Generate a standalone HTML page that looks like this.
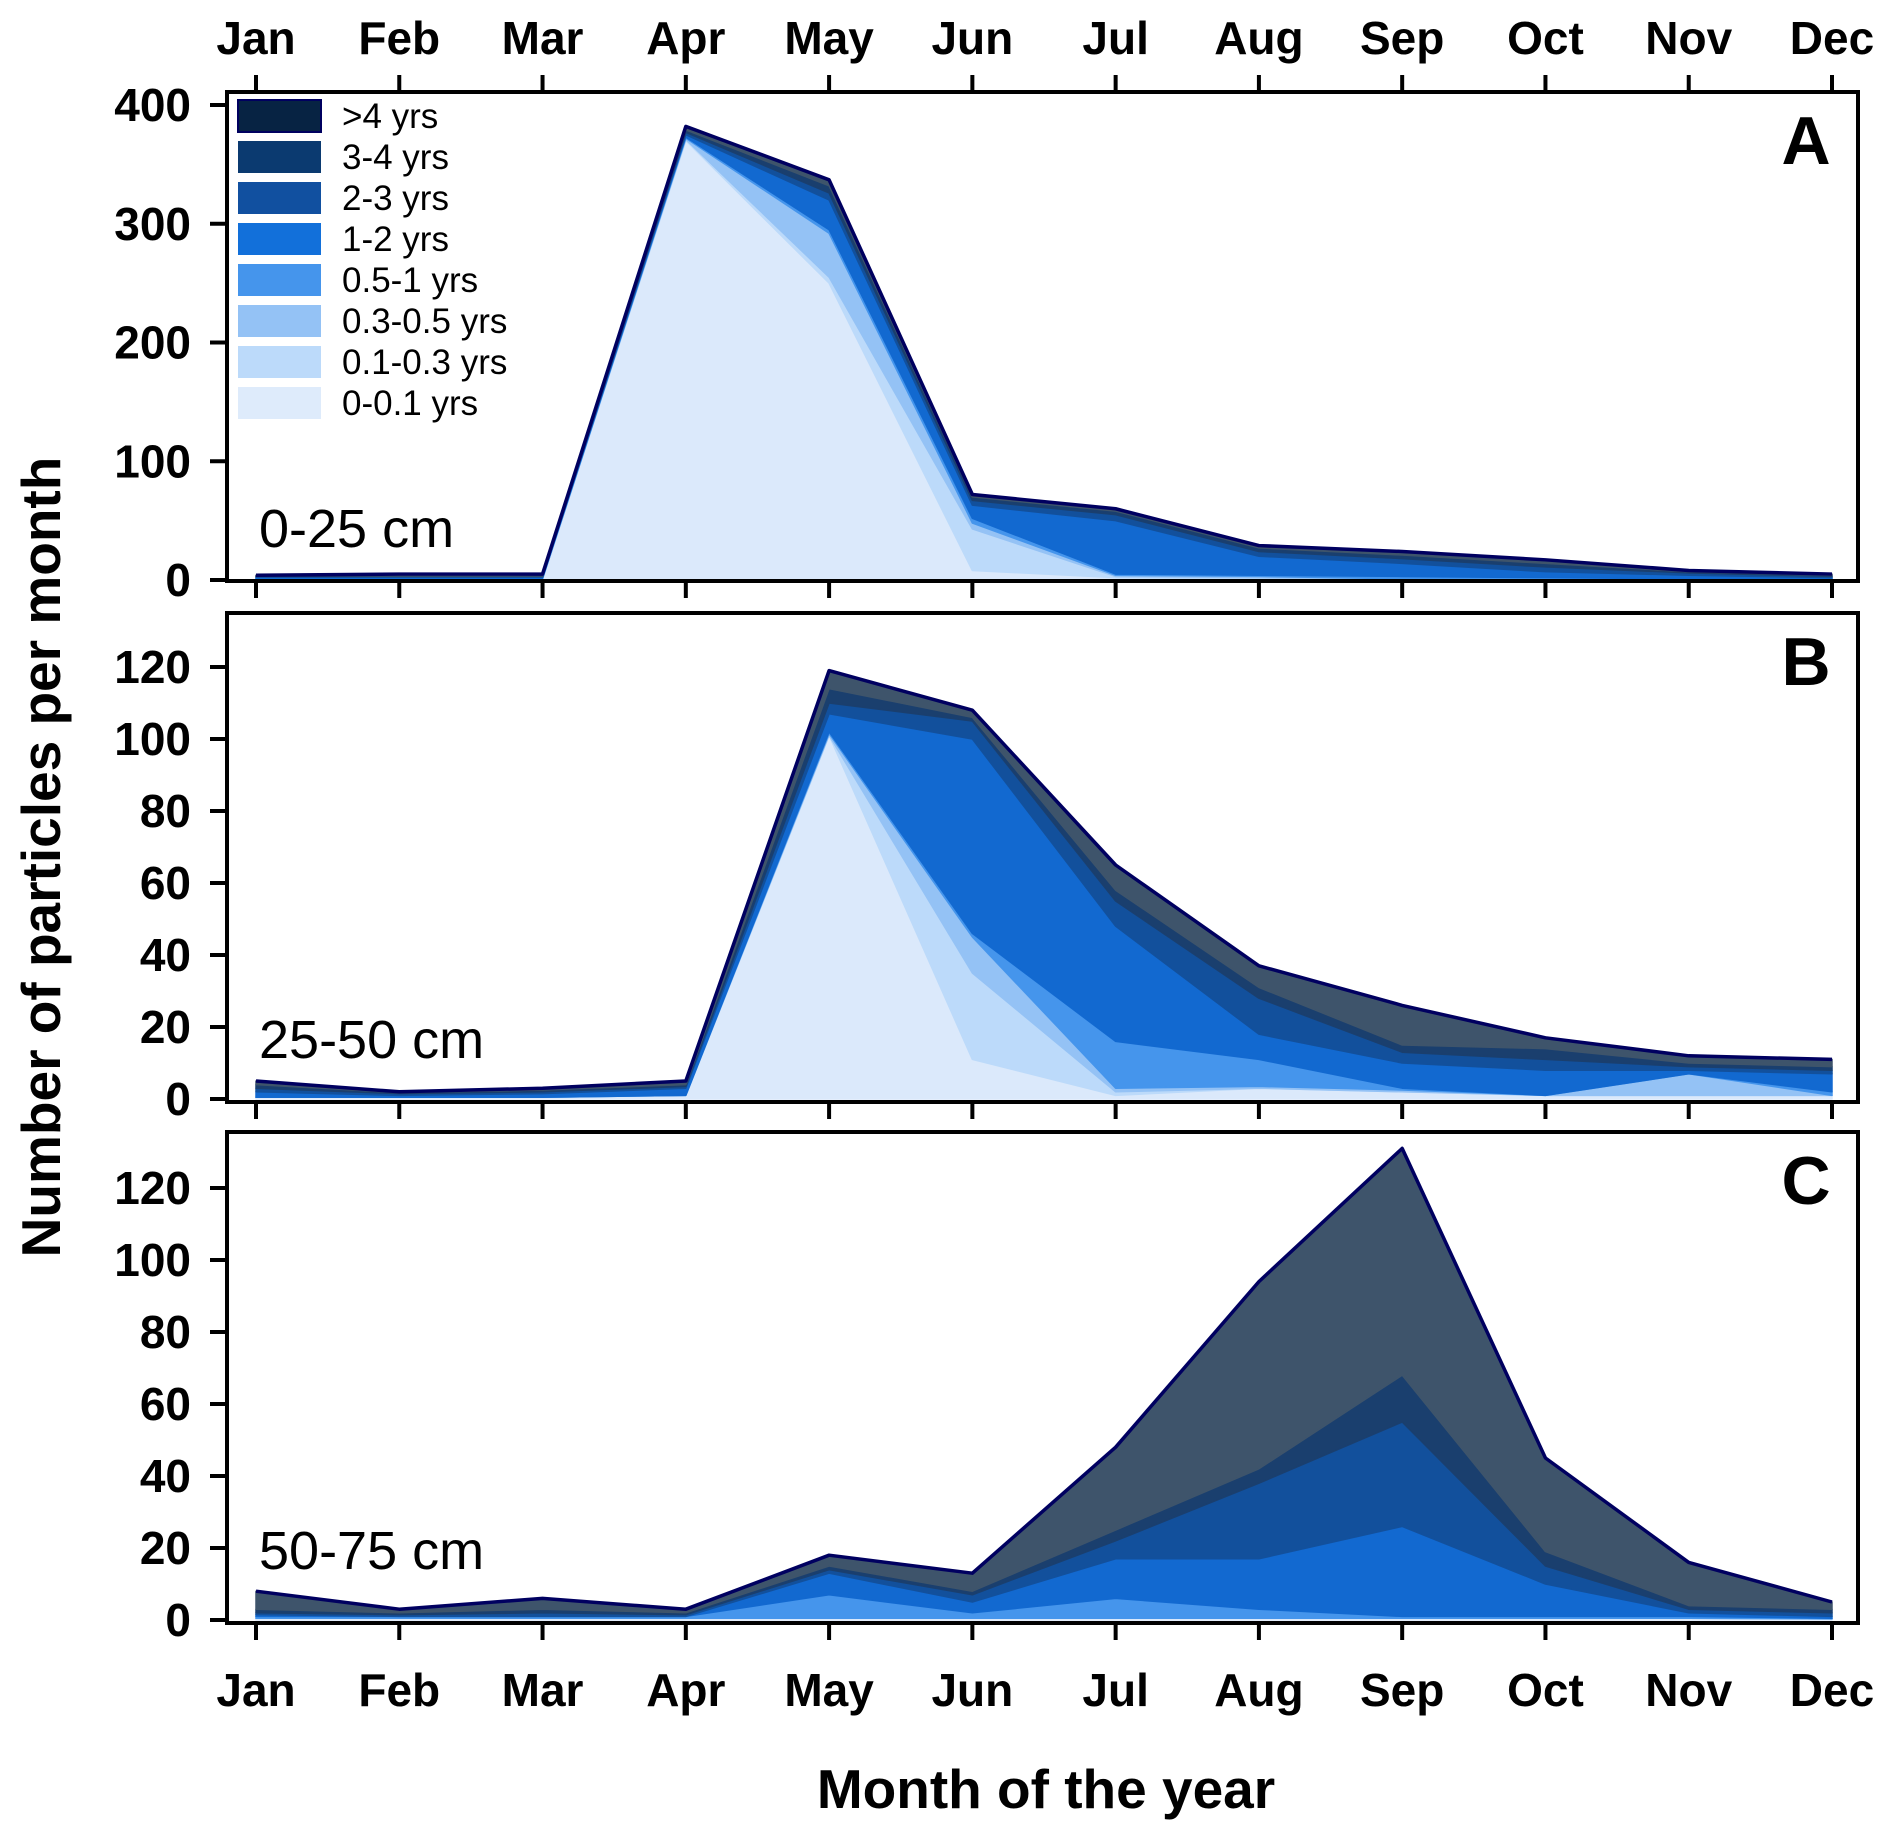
<!DOCTYPE html>
<html><head><meta charset="utf-8"><style>
body{margin:0;background:#fff}
svg{display:block;font-family:"Liberation Sans",Arial,sans-serif}
</style></head><body>
<svg id="chart" width="1892" height="1838" viewBox="0 0 1892 1838"></svg>
<script>
const months=["Jan","Feb","Mar","Apr","May","Jun","Jul","Aug","Sep","Oct","Nov","Dec"];
const seriesNames=["0-0.1 yrs","0.1-0.3 yrs","0.3-0.5 yrs","0.5-1 yrs","1-2 yrs","2-3 yrs","3-4 yrs",">4 yrs"];
// Panel A (0-25 cm)
const a0=[1,1,1,370,250,8,2,1,0,0,0,0];
const a1=[0,0,0,1,5,35,1,1,1,0,0,0];
const a2=[0,0,0,1,37,5,1,1,0,0,0,0];
const a3=[0.5,0.5,0.5,1,3,4,1,1,2,2,1,1];
const a4=[1,1,1,2,25,11,45,16,11,5,3,1];
const a5=[0.5,0.5,0.5,2,6,4,5,4,4,4,2,1];
const a6=[0.5,0.5,0.5,2,6,3,3,3,3,3,1,1];
const a7=[0.5,1.5,1.5,3,5,2,2,2,3,3,1,1];
// Panel B (25-50 cm)
const b0=[0.5,0.5,0.5,1,101,11,1,3,2,1,1,1];
const b1=[0,0,0,0,0,24,1,0,0,0,0,0];
const b2=[0,0,0,0,0.5,10,1,0.5,0.5,0,6,0];
const b3=[0,0,0,0,0.5,1,13,7.5,0.5,0,0,1];
const b4=[1.5,0.5,1,2,5,54,32,7,7,7,1,5];
const b5=[1,0.5,0.5,0.5,3,5,7,10,3,3,1,1];
const b6=[1,0.3,0.5,0.5,4,1,3,3,2,3,1,1];
const b7=[1,0.2,0.5,1,5,2,7,6,11,3,2,2];
// Panel C (50-75 cm)
const c0=[0.5,0.5,0.5,0.5,0.5,0.5,0.5,0.5,0.5,0.5,0.5,0.3];
const c1=[0,0,0,0,0,0,0,0,0,0,0,0];
const c2=[0,0,0,0,0,0,0,0,0,0,0,0];
const c3=[0.5,0.5,0.5,0.5,6.5,1.5,5.5,2.5,0.5,0.5,0.5,0.2];
const c4=[0.5,0,0,0,6,3,11,14,25,9,1,0.5];
const c5=[0.5,0.5,1,0.5,1,2,5,21,29,5,1,1];
const c6=[1,0.5,1,0.5,1,1,3,4,13,4,1,1];
const c7=[5,1,3,1,3,5,23,52,63,26,12,2];
const ticksA=[0,100,200,300,400];
const ticksB=[0,20,40,60,80,100,120];
const ticksC=[0,20,40,60,80,100,120];

const fills=["#dbe9fb","#bcdafa","#94c2f5","#4595ec","#1269d0","#12509c","#1a3f6e","#3e546b"];
const legendFills=["#deebfb","#bcdafa","#94c2f5","#4595ec","#1270da","#1150a0","#0b3a70","#072343"];
const NS="http://www.w3.org/2000/svg";
const svg=document.getElementById('chart');
function mk(tag,attrs,parent){const e=document.createElementNS(NS,tag);for(const k in attrs)e.setAttribute(k,attrs[k]);(parent||svg).appendChild(e);return e;}
const xL=256,xR=1832,boxL=227,boxR=1858;
function xs(i){return xL+(xR-xL)*i/11;}
const panels=[
 {key:"a",series:[a0,a1,a2,a3,a4,a5,a6,a7],ticks:ticksA,top:92,bot:581,y0:580,ymax:400,ypx:105,letter:"A",depth:"0-25 cm",depthY:547},
 {key:"b",series:[b0,b1,b2,b3,b4,b5,b6,b7],ticks:ticksB,top:613,bot:1102,y0:1099,ymax:120,ypx:667,letter:"B",depth:"25-50 cm",depthY:1058},
 {key:"c",series:[c0,c1,c2,c3,c4,c5,c6,c7],ticks:ticksC,top:1132,bot:1623,y0:1620,ymax:120,ypx:1188,letter:"C",depth:"50-75 cm",depthY:1569}
];
panels.forEach(p=>{
  const g=mk('g',{});
  
  
  const ys=v=>p.y0-(p.y0-p.ypx)*v/p.ymax;
  let base=months.map(()=>0);
  p.series.forEach((s,si)=>{
    const topv=base.map((b,i)=>b+s[i]);
    let d="M"+months.map((m,i)=>xs(i)+","+ys(topv[i])).join(" L");
    for(let i=11;i>=0;i--)d+=" L"+xs(i)+","+ys(base[i]);
    const path=mk('path',{d:d+"Z",fill:fills[si],stroke:fills[si],"stroke-width":1.5,"stroke-linejoin":"round"},g);
    
    
    base=topv;
  });
  const ol=mk('polyline',{points:months.map((m,i)=>xs(i)+","+ys(base[i])).join(" "),fill:"none",stroke:"#000060","stroke-width":3.5,"stroke-linejoin":"round"},g);
  
  
  const fr=mk('rect',{x:boxL,y:p.top,width:boxR-boxL,height:p.bot-p.top,fill:"none",stroke:"#000","stroke-width":4},g);
  
  
  p.ticks.forEach(t=>{
    const y=ys(t);
    mk('line',{x1:boxL-17,x2:boxL,y1:y,y2:y,stroke:"#000","stroke-width":4},g);
    const tx=mk('text',{x:191,y:y+16,"text-anchor":"end","font-size":46,"font-weight":"bold"},g);
    tx.textContent=t;
    
    
  });
  months.forEach((m,i)=>{mk('line',{x1:xs(i),x2:xs(i),y1:p.bot,y2:p.bot+17,stroke:"#000","stroke-width":4},g);});
  const lt=mk('text',{x:1806,y:p.top+72,"text-anchor":"middle","font-size":68,"font-weight":"bold"},g);
  lt.textContent=p.letter;
  
  
  const dt=mk('text',{x:259,y:p.depthY,"font-size":54},g);
  dt.textContent=p.depth;
  
  
});
months.forEach((m,i)=>{
  mk('line',{x1:xs(i),x2:xs(i),y1:75,y2:92,stroke:"#000","stroke-width":4});
  const t1=mk('text',{x:xs(i),y:54,"text-anchor":"middle","font-size":46,"font-weight":"bold"});
  t1.textContent=m;
  
  
  const t2=mk('text',{x:xs(i),y:1706,"text-anchor":"middle","font-size":46,"font-weight":"bold"});
  t2.textContent=m;
  
  
});
const lg=mk('g',{});


for(let k=7;k>=0;k--){
  const row=7-k;
  const cy=116+row*41;
  const r=mk('rect',{x:238,y:cy-16,width:83,height:32,fill:legendFills[k],stroke:k==7?"#000060":"none","stroke-width":2},lg);
  
  
  const t=mk('text',{x:342,y:cy+12,"font-size":35},lg);
  t.textContent=seriesNames[k];
  
  
}
const xt=mk('text',{x:1046,y:1808,"text-anchor":"middle","font-size":55,"font-weight":"bold"});
xt.textContent="Month of the year";


const yt=mk('text',{x:0,y:0,"text-anchor":"middle","font-size":55,"font-weight":"bold",transform:"translate(60,857) rotate(-90)"});
yt.textContent="Number of particles per month";


</script>
</body></html>
